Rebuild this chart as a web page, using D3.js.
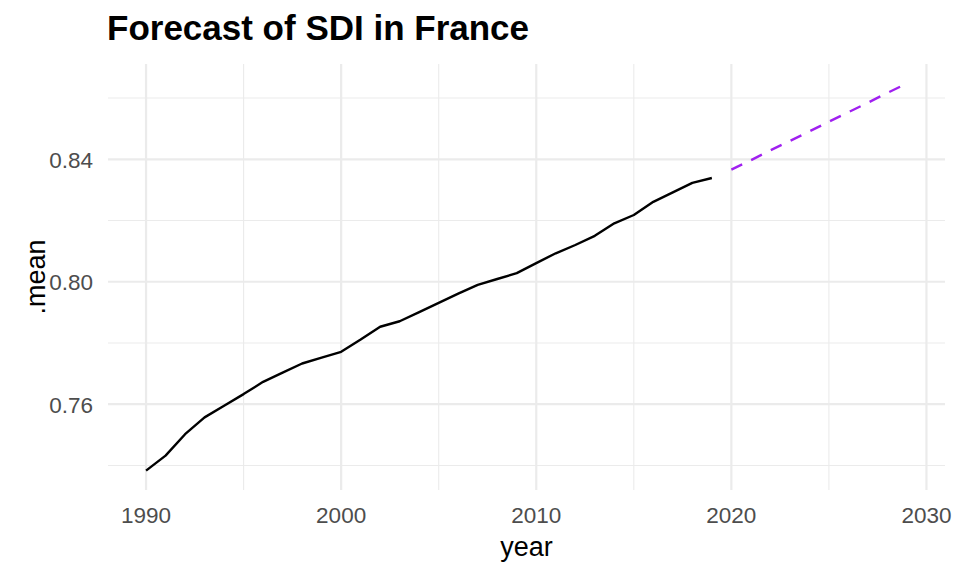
<!DOCTYPE html>
<html><head><meta charset="utf-8">
<script src="https://cdn.jsdelivr.net/npm/d3@7"></script>
<style>body{margin:0;background:#fff}svg{display:block}</style>
</head><body><svg id="c" width="960" height="576"></svg>
<script>
const histYears = d3.range(1990, 2020);
const histValues = [0.7383,0.7432,0.7502,0.7557,0.7595,0.7633,0.7673,0.7703,0.7733,0.7752,
  0.7771,0.7811,0.7853,0.7871,0.7901,0.7931,0.7961,0.7990,0.8009,0.8028,
  0.8061,0.8093,0.8120,0.8150,0.8191,0.8218,0.8261,0.8292,0.8323,0.8339];
const fcYears = d3.range(2020, 2030);
const fcValues = [0.8366,0.8397,0.8429,0.8460,0.8491,0.8523,0.8554,0.8585,0.8617,0.8648];
const xTicks = [1990,2000,2010,2020,2030];
const xMinor = [1995,2005,2015,2025];
const yTicks = [0.76,0.80,0.84];
const yMinor = [0.74,0.78,0.82,0.86];

const svg = d3.select("#c");
const L = 108, R = 945, T = 64, B = 490;
const allY = histYears.concat(fcYears), allV = histValues.concat(fcValues);
const xmin = d3.min(allY), xmax = d3.max(allY), ymin = d3.min(allV), ymax = d3.max(allV);
const xe = (xmax - xmin) * 0.05, ye = (ymax - ymin) * 0.05;
const x = d3.scaleLinear().domain([xmin - xe, xmax + xe]).range([L, R]);
const y = d3.scaleLinear().domain([ymin - ye, ymax + ye]).range([B, T]);

const g = svg.append("g");
g.selectAll(".ym").data(yMinor).join("line").attr("x1", L).attr("x2", R)
  .attr("y1", d => y(d)).attr("y2", d => y(d)).attr("stroke", "#EBEBEB").attr("stroke-width", 1.1);
g.selectAll(".xm").data(xMinor).join("line").attr("y1", T).attr("y2", B)
  .attr("x1", d => x(d)).attr("x2", d => x(d)).attr("stroke", "#EBEBEB").attr("stroke-width", 1.1);
g.selectAll(".yM").data(yTicks).join("line").attr("x1", L).attr("x2", R)
  .attr("y1", d => y(d)).attr("y2", d => y(d)).attr("stroke", "#EBEBEB").attr("stroke-width", 2.2);
g.selectAll(".xM").data(xTicks).join("line").attr("y1", T).attr("y2", B)
  .attr("x1", d => x(d)).attr("x2", d => x(d)).attr("stroke", "#EBEBEB").attr("stroke-width", 2.2);

const line = d3.line().x(d => x(d[0])).y(d => y(d[1]));
svg.append("path").datum(histYears.map((yr, i) => [yr, histValues[i]]))
  .attr("d", line).attr("fill", "none").attr("stroke", "#000").attr("stroke-width", 2.4)
  .attr("stroke-linejoin", "round");
svg.append("path").datum(fcYears.map((yr, i) => [yr, fcValues[i]]))
  .attr("d", line).attr("fill", "none").attr("stroke", "#A020F0").attr("stroke-width", 2.4)
  .attr("stroke-dasharray", "12,10");

const font = "Liberation Sans, Arial, Helvetica, sans-serif";
svg.selectAll(".xt").data(xTicks).join("text").attr("x", d => x(d)).attr("y", 523)
  .attr("text-anchor", "middle").attr("font-family", font).attr("font-size", 22.5)
  .attr("fill", "#4D4D4D").text(d => d);
svg.selectAll(".yt").data(yTicks).join("text").attr("x", 93).attr("y", d => y(d) + 8.5)
  .attr("text-anchor", "end").attr("font-family", font).attr("font-size", 22.5)
  .attr("fill", "#4D4D4D").text(d => d.toFixed(2));
svg.append("text").attr("x", (L + R) / 2).attr("y", 556).attr("text-anchor", "middle")
  .attr("font-family", font).attr("font-size", 27).attr("fill", "#000").text("year");
svg.append("text").attr("transform", `translate(45,${(T + B) / 2}) rotate(-90)`)
  .attr("text-anchor", "middle").attr("font-family", font).attr("font-size", 27)
  .attr("fill", "#000").text(".mean");
svg.append("text").attr("x", 107).attr("y", 40).attr("font-family", font)
  .attr("font-size", 35).attr("font-weight", "bold").attr("fill", "#000")
  .text("Forecast of SDI in France");
</script></body></html>
